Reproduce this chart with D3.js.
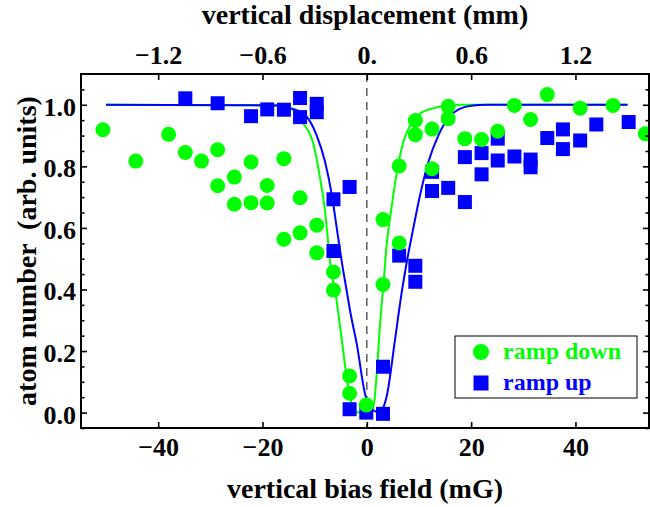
<!DOCTYPE html>
<html><head><meta charset="utf-8">
<script src="https://cdn.jsdelivr.net/npm/d3@7"></script>
<style>
body{margin:0;background:#fff}
svg{display:block}
text{font-family:"Liberation Serif","Times New Roman",Times,serif;font-weight:bold}
</style>
</head><body>
<svg id="chart" width="650" height="507"></svg>
<script>
// ---- data ----
const rampDownX = [-50.6,-44.3,-38.0,-34.8,-31.7,-28.6,-28.6,-25.4,-25.4,-22.2,-22.2,-19.1,-19.1,-15.9,-15.9,-12.8,-12.8,-9.6,-9.6,-6.4,-6.4,-3.3,-3.3,-0.1,3.1,3.1,6.2,6.2,9.3,9.3,12.5,12.5,15.6,15.6,18.8,22.0,25.1,28.3,31.4,34.6,40.9,47.2,53.4];
const rampDownY = [0.919,0.817,0.904,0.845,0.817,0.854,0.737,0.765,0.677,0.814,0.682,0.738,0.681,0.825,0.563,0.698,0.584,0.609,0.519,0.457,0.398,0.119,0.063,0.025,0.416,0.627,0.551,0.801,0.949,0.903,0.921,0.792,0.995,0.955,0.890,0.887,0.914,0.998,0.952,1.033,0.989,0.998,0.906];

const rampUpX = [-34.8,-28.6,-22.2,-19.1,-15.9,-12.8,-12.8,-9.6,-9.6,-6.4,-6.4,-3.3,-3.3,-0.1,3.1,3.1,6.2,9.3,9.3,12.5,12.5,15.6,18.8,18.8,22.0,22.0,25.1,25.1,28.3,31.4,31.4,34.6,37.6,37.6,40.9,44.0,50.2];
const rampUpY = [1.021,1.005,0.963,0.985,0.984,1.022,0.960,1.003,0.976,0.693,0.525,0.733,0.011,0.000,-0.004,0.149,0.510,0.477,0.425,0.782,0.720,0.730,0.830,0.684,0.843,0.774,0.890,0.819,0.832,0.822,0.797,0.892,0.920,0.856,0.884,0.936,0.944];

const fitDownX = [-50,-17,-14.7,-12.2,-10.2,-8.95,-8.0,-7.36,-6.9,-6.1,-4.8,-3.8,-2.9,-1.6,0.0,1.27,1.9,2.55,3.2,3.8,4.8,5.75,7.0,8.3,10.2,12.8,15.3,18,50];
const fitDownY = [1.0,0.998,0.989,0.94,0.87,0.76,0.652,0.544,0.468,0.398,0.236,0.106,0.03,0.0,0.0,0.02,0.128,0.29,0.42,0.544,0.673,0.781,0.879,0.933,0.971,0.989,0.998,1.0,1.0];

const fitUpX = [-50,-17,-15,-12.2,-9.6,-8.0,-6.7,-5.75,-4.8,-3.8,-3.2,-1.9,-0.33,0.63,1.9,2.9,3.8,5.4,6.7,7.67,8.9,10.2,11.8,13.7,16.0,17.6,20,23,50];
const fitUpY = [1.0,0.998,0.99,0.972,0.90,0.814,0.706,0.598,0.49,0.39,0.33,0.22,0.06,0.02,0.003,0.01,0.052,0.236,0.392,0.49,0.598,0.706,0.814,0.90,0.965,0.985,0.997,1.0,1.0];

const bottomTicks = [-40,-20,0,20,40];
const bottomTickLabels = ["\u221240","\u221220","0","20","40"];
const topTicks = [-1.2,-0.6,0,0.6,1.2];
const topTickLabels = ["\u22121.2","\u22120.6","0.","0.6","1.2"];
const yTicks = [0,0.2,0.4,0.6,0.8,1.0];
const yTickLabels = ["0.0","0.2","0.4","0.6","0.8","1.0"];
const yMinorTicks = [-0.05,0.05,0.1,0.15,0.25,0.3,0.35,0.45,0.5,0.55,0.65,0.7,0.75,0.85,0.9,0.95,1.05];
const mmPerMG = 0.03;

const seriesNames = ["ramp down","ramp up"];
const seriesColors = ["#00ff00","#0000ff"];

// ---- layout ----
const svg = d3.select("#chart");
const L = 81, R = 649, T = 74, B = 428;
const xDomain = [-54.8, 54.1];
const x = d3.scaleLinear().domain(xDomain).range([L, R]);
const xTop = d3.scaleLinear().domain([xDomain[0]*mmPerMG, xDomain[1]*mmPerMG]).range([L, R]);
const y = d3.scaleLinear().domain([-0.05, 1.1]).range([B, T]);

svg.append("defs").append("clipPath").attr("id","clip")
  .append("rect").attr("x",L).attr("y",T).attr("width",R-L).attr("height",B-T);

const plot = svg.append("g").attr("clip-path","url(#clip)");

// dashed zero line
plot.append("line")
  .attr("x1",x(0)).attr("x2",x(0)).attr("y1",T).attr("y2",B)
  .attr("stroke","#444").attr("stroke-width",1.3).attr("stroke-dasharray","8,6");

// fit curves
const line = d3.line().x(d=>x(d[0])).y(d=>y(d[1])).curve(d3.curveMonotoneX);
plot.append("path").datum(fitDownX.map((v,i)=>[v,fitDownY[i]]))
  .attr("d",line).attr("fill","none").attr("stroke",seriesColors[0]).attr("stroke-width",2);
plot.append("path").datum(fitUpX.map((v,i)=>[v,fitUpY[i]]))
  .attr("d",line).attr("fill","none").attr("stroke",seriesColors[1]).attr("stroke-width",2);

// ramp up squares
const sq = 14;
plot.selectAll("rect.up").data(rampUpX.map((v,i)=>[v,rampUpY[i]])).join("rect")
  .attr("class","up")
  .attr("x",d=>x(d[0])-sq/2).attr("y",d=>y(d[1])-sq/2)
  .attr("width",sq).attr("height",sq).attr("fill",seriesColors[1]);

// ramp down circles
plot.selectAll("circle.down").data(rampDownX.map((v,i)=>[v,rampDownY[i]])).join("circle")
  .attr("class","down")
  .attr("cx",d=>x(d[0])).attr("cy",d=>y(d[1])).attr("r",7.5).attr("fill",seriesColors[0]);

// ---- axes ----
function styleAxis(g){
  g.select(".domain").remove();
  g.selectAll(".tick line").attr("stroke","#000").attr("stroke-width",1.6);
  g.selectAll(".tick text").attr("fill","#000").style("font-size","26px");
}
svg.append("g").attr("transform",`translate(0,${B})`)
  .call(d3.axisBottom(x).tickValues(bottomTicks).tickSize(-6).tickPadding(10)
    .tickFormat((d,i)=>bottomTickLabels[i]))
  .call(styleAxis);
svg.append("g").attr("transform",`translate(0,${T})`)
  .call(d3.axisTop(xTop).tickValues(topTicks).tickSize(-6).tickPadding(10)
    .tickFormat((d,i)=>topTickLabels[i]))
  .call(styleAxis);
svg.append("g").attr("transform",`translate(${L},0)`)
  .call(d3.axisLeft(y).tickValues(yTicks).tickSize(-6).tickPadding(5)
    .tickFormat((d,i)=>yTickLabels[i]))
  .call(styleAxis)
  .call(g=>g.selectAll(".tick text").attr("dy","0.4em"));
svg.append("g").attr("transform",`translate(${L},0)`)
  .call(d3.axisLeft(y).tickValues(yMinorTicks).tickSize(-3.5).tickFormat(""))
  .call(styleAxis);
svg.append("g").attr("transform",`translate(${R},0)`)
  .call(d3.axisRight(y).tickValues(yTicks).tickSize(-6).tickFormat(""))
  .call(styleAxis);
svg.append("g").attr("transform",`translate(${R},0)`)
  .call(d3.axisRight(y).tickValues(yMinorTicks).tickSize(-3.5).tickFormat(""))
  .call(styleAxis);

// frame
svg.append("rect").attr("x",L).attr("y",T).attr("width",R-L).attr("height",B-T)
  .attr("fill","none").attr("stroke","#000").attr("stroke-width",2);

// axis titles
svg.append("text").attr("x",(L+R)/2).attr("y",498).attr("text-anchor","middle")
  .style("font-size","28px").text("vertical bias field (mG)");
svg.append("text").attr("x",(L+R)/2).attr("y",24).attr("text-anchor","middle")
  .style("font-size","28px").text("vertical displacement (mm)");
svg.append("text").attr("transform",`translate(36,${(T+B)/2}) rotate(-90)`)
  .attr("text-anchor","middle").style("font-size","28px").style("white-space","pre")
  .text("atom number  (arb. units)");

// legend
const lg = svg.append("g");
lg.append("rect").attr("x",455).attr("y",336).attr("width",182).attr("height",62)
  .attr("fill","#fff").attr("stroke","#000").attr("stroke-width",1);
lg.append("circle").attr("cx",481).attr("cy",352).attr("r",8).attr("fill",seriesColors[0]);
lg.append("rect").attr("x",481-7.5).attr("y",383-7.5).attr("width",15).attr("height",15).attr("fill",seriesColors[1]);
lg.append("text").attr("x",503).attr("y",359).attr("fill",seriesColors[0]).style("font-size","24px").text(seriesNames[0]);
lg.append("text").attr("x",503).attr("y",390).attr("fill",seriesColors[1]).style("font-size","24px").text(seriesNames[1]);
</script>
</body></html>
